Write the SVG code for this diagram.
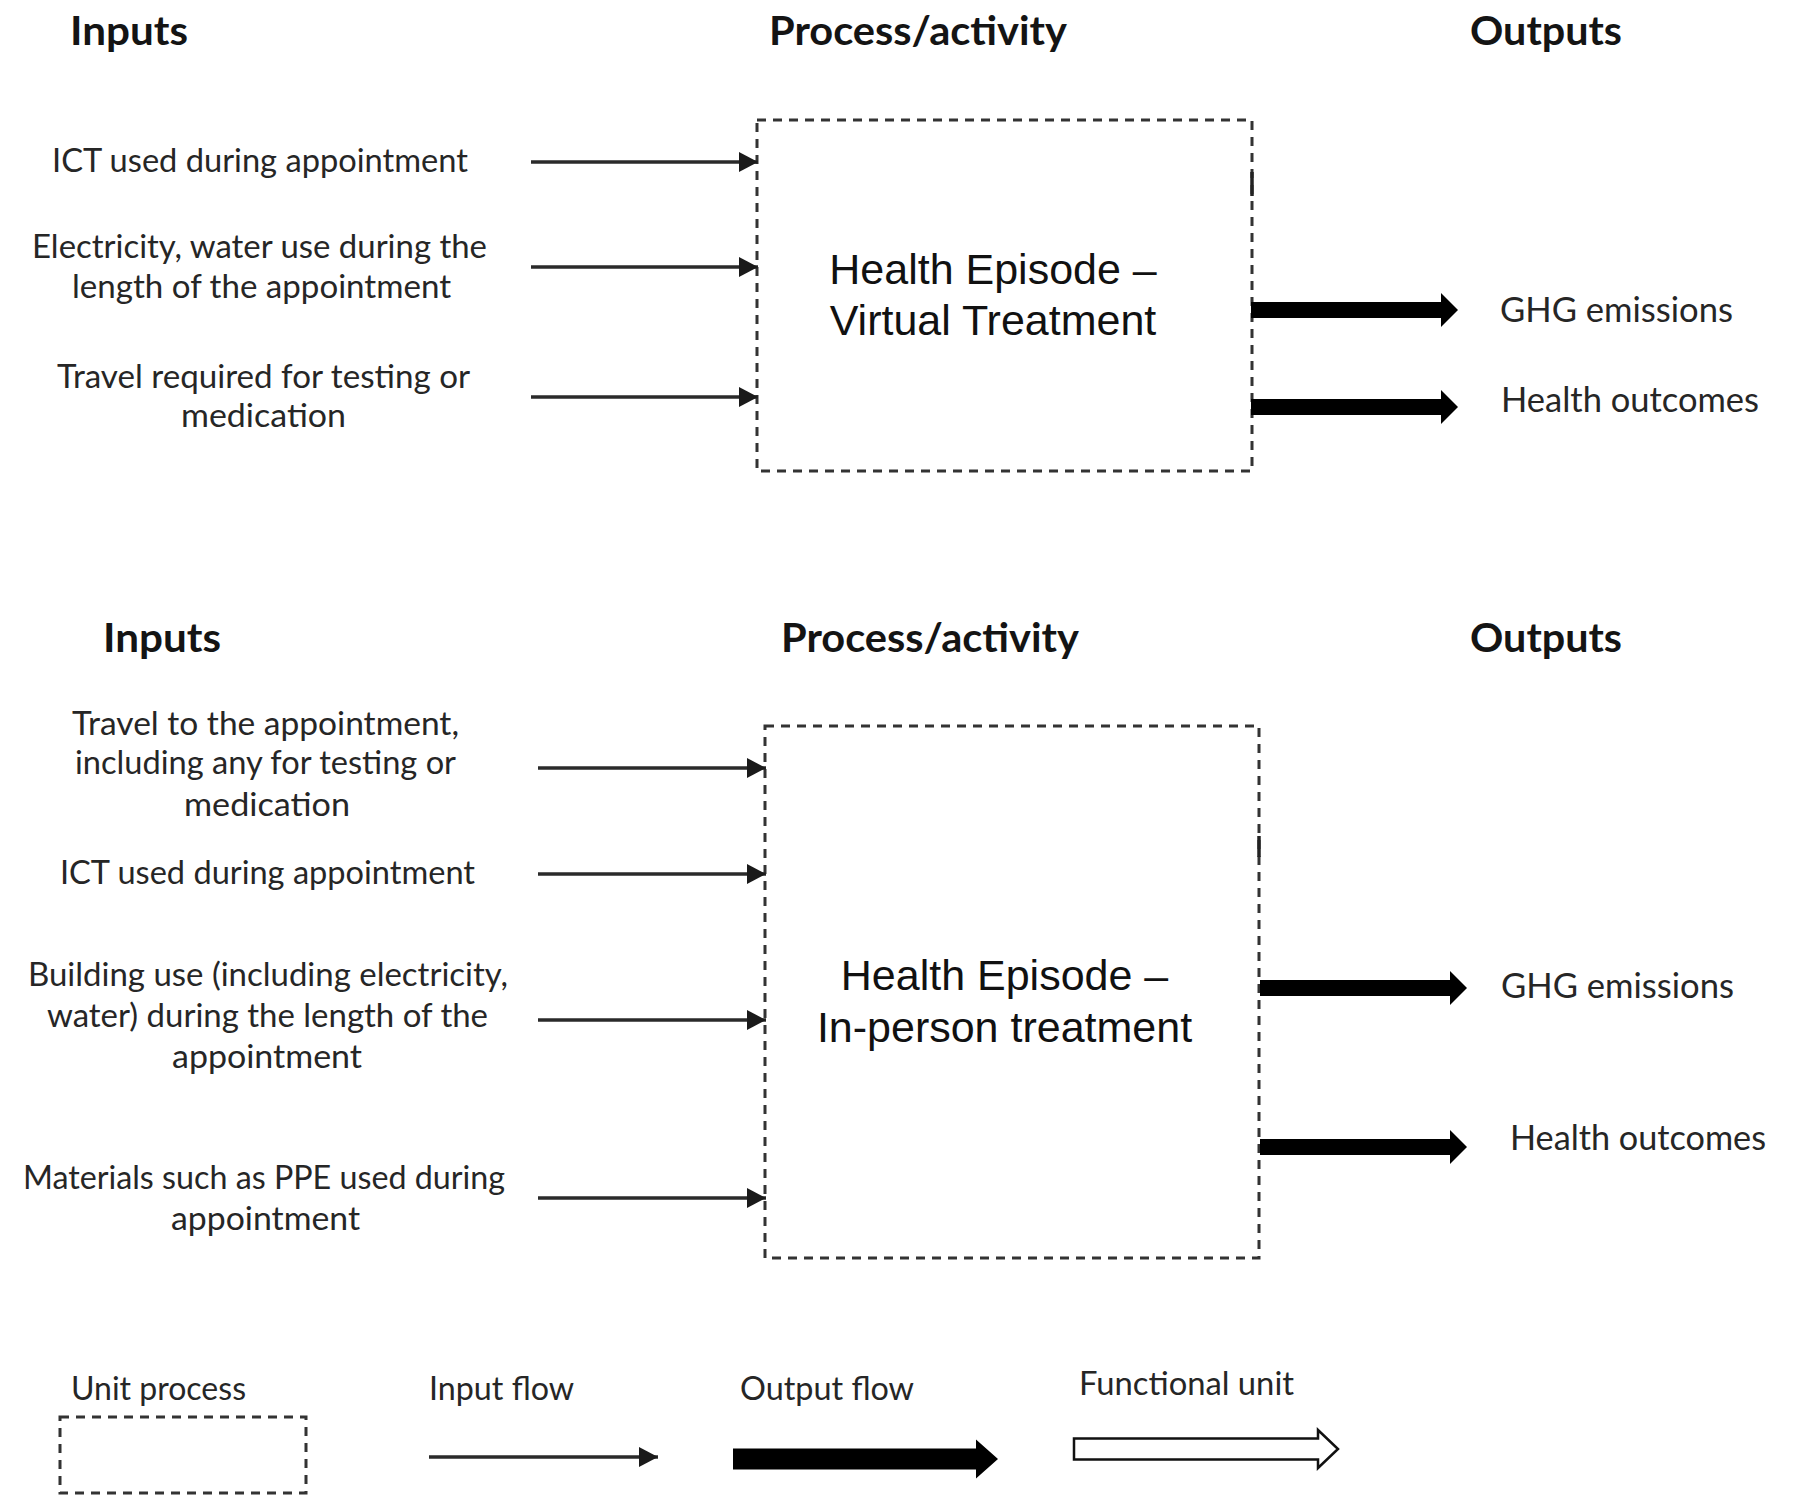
<svg xmlns="http://www.w3.org/2000/svg" xmlns:xlink="http://www.w3.org/1999/xlink" width="1802" height="1498" viewBox="0 0 1802 1498">
<style>
.bg{fill:#ffffff}
.head{font-family:Lato,"Liberation Sans",sans-serif;font-weight:bold;font-size:41px;fill:#141414}
.body{font-family:Lato,"Liberation Sans",sans-serif;font-size:32px;fill:#262626}
.out{font-family:Lato,"Liberation Sans",sans-serif;font-size:34px;fill:#262626}
.boxtxt{font-family:"Liberation Sans",Arial,sans-serif;font-size:43px;fill:#111;text-anchor:middle}
.unit{fill:none;stroke:#333;stroke-width:3;stroke-dasharray:9 7}
.mark{stroke:#222;stroke-width:3.5}
.inflow{stroke:#2a2a2a;stroke-width:3.5;fill:none;marker-end:url(#ah)}
.outflow{fill:#000}
.fu{fill:#fff;stroke:#111;stroke-width:2.5}
</style>
<defs>
<marker id="ah" markerUnits="userSpaceOnUse" markerWidth="20" markerHeight="21" refX="19" refY="10" orient="auto">
<path d="M0,0 L19,10 L0,20 z" fill="#1a1a1a"/>
</marker>
<polygon id="outArrow" points="0,-8 190,-8 190,-17 207,0 190,17 190,8 0,8"/>
</defs>
<rect class="bg" x="0" y="0" width="1802" height="1498"/>

<g id="headings">
<text class="head" x="70" y="45" textLength="118" lengthAdjust="spacingAndGlyphs">Inputs</text>
<text class="head" x="769" y="45" textLength="298" lengthAdjust="spacingAndGlyphs">Process/activity</text>
<text class="head" x="1470" y="45" textLength="152" lengthAdjust="spacingAndGlyphs">Outputs</text>
<text class="head" x="103" y="652" textLength="118" lengthAdjust="spacingAndGlyphs">Inputs</text>
<text class="head" x="781" y="652" textLength="298" lengthAdjust="spacingAndGlyphs">Process/activity</text>
<text class="head" x="1470" y="652" textLength="152" lengthAdjust="spacingAndGlyphs">Outputs</text>
</g>

<g id="box-virtual">
<rect class="unit" x="757" y="120" width="495" height="351"/>
<line class="mark" x1="1252" y1="172" x2="1252" y2="196"/>
<text class="boxtxt" x="993" y="284">Health Episode –</text>
<text class="boxtxt" x="993" y="335">Virtual Treatment</text>
</g>

<g id="box-inperson">
<rect class="unit" x="765" y="726" width="494" height="532"/>
<line class="mark" x1="1259" y1="836" x2="1259" y2="857"/>
<text class="boxtxt" x="1004.5" y="990">Health Episode –</text>
<text class="boxtxt" x="1004.5" y="1042">In-person treatment</text>
</g>

<g id="inputs-virtual">
<g id="in-v-ict"><text class="body" x="52" y="172" textLength="416" lengthAdjust="spacingAndGlyphs">ICT used during appointment</text></g>
<g id="in-v-elec">
<text class="body" x="32" y="258" textLength="455" lengthAdjust="spacingAndGlyphs">Electricity, water use during the</text>
<text class="body" x="72" y="298" textLength="379" lengthAdjust="spacingAndGlyphs">length of the appointment</text>
</g>
<g id="in-v-travel">
<text class="body" x="57" y="388" textLength="413" lengthAdjust="spacingAndGlyphs">Travel required for testing or</text>
<text class="body" x="181" y="427" textLength="165" lengthAdjust="spacingAndGlyphs">medication</text>
</g>
</g>

<g id="inputs-inperson">
<g id="in-p-travel">
<text class="body" x="72" y="735" textLength="387" lengthAdjust="spacingAndGlyphs">Travel to the appointment,</text>
<text class="body" x="75" y="774" textLength="381" lengthAdjust="spacingAndGlyphs">including any for testing or</text>
<text class="body" x="184" y="816" textLength="166" lengthAdjust="spacingAndGlyphs">medication</text>
</g>
<g id="in-p-ict"><text class="body" x="60" y="884" textLength="415" lengthAdjust="spacingAndGlyphs">ICT used during appointment</text></g>
<g id="in-p-building">
<text class="body" x="28" y="986" textLength="480" lengthAdjust="spacingAndGlyphs">Building use (including electricity,</text>
<text class="body" x="47" y="1027" textLength="441" lengthAdjust="spacingAndGlyphs">water) during the length of the</text>
<text class="body" x="172" y="1068" textLength="190" lengthAdjust="spacingAndGlyphs">appointment</text>
</g>
<g id="in-p-materials">
<text class="body" x="23" y="1189" textLength="482" lengthAdjust="spacingAndGlyphs">Materials such as PPE used during</text>
<text class="body" x="171" y="1230" textLength="189" lengthAdjust="spacingAndGlyphs">appointment</text>
</g>
</g>

<g id="outputs">
<g id="out-v-ghg"><text class="out" x="1500" y="322" textLength="233" lengthAdjust="spacingAndGlyphs">GHG emissions</text></g>
<g id="out-v-health"><text class="out" x="1501" y="412" textLength="258" lengthAdjust="spacingAndGlyphs">Health outcomes</text></g>
<g id="out-p-ghg"><text class="out" x="1501" y="998" textLength="233" lengthAdjust="spacingAndGlyphs">GHG emissions</text></g>
<g id="out-p-health"><text class="out" x="1510" y="1150" textLength="256" lengthAdjust="spacingAndGlyphs">Health outcomes</text></g>
</g>

<g id="connectors">
<line class="inflow" x1="531" y1="162" x2="758" y2="162"/>
<line class="inflow" x1="531" y1="267" x2="758" y2="267"/>
<line class="inflow" x1="531" y1="397" x2="758" y2="397"/>
<line class="inflow" x1="538" y1="768" x2="766" y2="768"/>
<line class="inflow" x1="538" y1="874" x2="766" y2="874"/>
<line class="inflow" x1="538" y1="1020" x2="766" y2="1020"/>
<line class="inflow" x1="538" y1="1198" x2="766" y2="1198"/>
<use xlink:href="#outArrow" class="outflow" x="1251" y="310"/>
<use xlink:href="#outArrow" class="outflow" x="1251" y="407"/>
<use xlink:href="#outArrow" class="outflow" x="1260" y="988"/>
<use xlink:href="#outArrow" class="outflow" x="1260" y="1147"/>
</g>

<g id="legend">
<g id="legend-unit">
<text class="body" x="71" y="1400" textLength="175" lengthAdjust="spacingAndGlyphs">Unit process</text>
<rect class="unit" x="60" y="1417" width="246" height="76"/>
</g>
<g id="legend-input">
<text class="body" x="429" y="1400" textLength="145" lengthAdjust="spacingAndGlyphs">Input flow</text>
<line class="inflow" x1="429" y1="1457" x2="658" y2="1457"/>
</g>
<g id="legend-output">
<text class="body" x="740" y="1400" textLength="174" lengthAdjust="spacingAndGlyphs">Output flow</text>
<polygon class="outflow" points="733,1448.5 976,1448.5 976,1439.5 998,1459 976,1478.5 976,1469.5 733,1469.5"/>
</g>
<g id="legend-functional">
<text class="body" x="1079" y="1395" textLength="215" lengthAdjust="spacingAndGlyphs">Functional unit</text>
<polygon class="fu" points="1074,1438.5 1318,1438.5 1318,1430 1338,1449 1318,1468 1318,1459.5 1074,1459.5"/>
</g>
</g>
</svg>
